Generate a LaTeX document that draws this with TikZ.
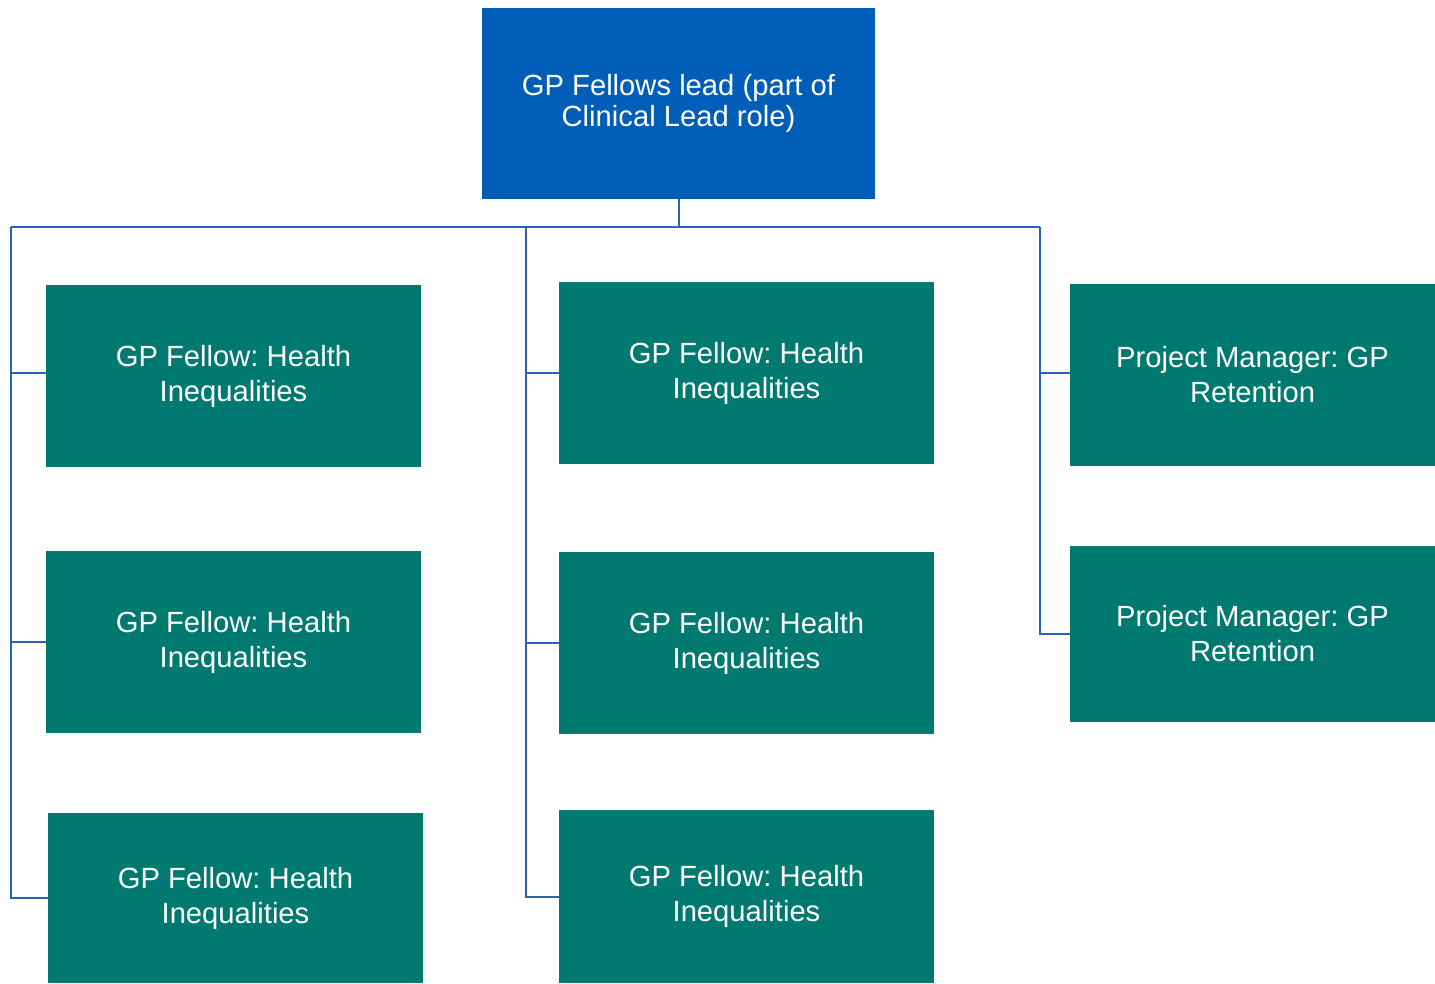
\documentclass[tikz,border=0pt]{standalone}
\usepackage{fontspec}
\setmainfont{Liberation Sans}
\usetikzlibrary{calc}
\definecolor{leadblue}{HTML}{005EB8}
\definecolor{fellowteal}{HTML}{007A70}
\definecolor{linkblue}{HTML}{2A62B8}
\frenchspacing

\begin{document}
\begin{tikzpicture}[x=0.5pt,y=-0.5pt,
    box/.style={rectangle,inner sep=0pt,align=center,text=white,
      font=\fontsize{14.6}{17.5}\selectfont},
    leadbox/.style={box,fill=leadblue,minimum width=196.5pt,minimum height=95.5pt,
      font=\fontsize{14.6}{15.5}\selectfont},
    fellowbox/.style={box,fill=fellowteal,minimum width=187.5pt,minimum height=91pt},
    link/.style={draw=linkblue,line width=1pt}]
  \useasboundingbox (0,0) rectangle (1435,984);

  % lead
  \node[leadbox] (lead) at (678.5,103.5) {GP Fellows lead (part of\\Clinical Lead role)};

  % left column
  \node[fellowbox] (hl1) at (233.5,376) {GP Fellow: Health\\Inequalities};
  \node[fellowbox] (hl2) at (233.5,642) {GP Fellow: Health\\Inequalities};
  \node[fellowbox,minimum height=85pt] (hl3) at (235.5,898) {GP Fellow: Health\\Inequalities};

  % middle column
  \node[fellowbox] (hm1) at (746.5,373) {GP Fellow: Health\\Inequalities};
  \node[fellowbox] (hm2) at (746.5,643) {GP Fellow: Health\\Inequalities};
  \node[fellowbox,minimum height=86.5pt] (hm3) at (746.5,896.5) {GP Fellow: Health\\Inequalities};

  % right column
  \node[fellowbox,minimum width=182.5pt] (pm1) at (1252.5,375) {Project Manager: GP\\Retention};
  \node[fellowbox,minimum width=182.5pt,minimum height=88pt] (pm2) at (1252.5,634) {Project Manager: GP\\Retention};

  % connectors
  \coordinate (bar) at (lead.south |- 0,227);
  \coordinate (ltop) at (11,227);
  \coordinate (mtop) at (526,227);
  \coordinate (rtop) at (1040,227);
  \draw[link] (lead.south) -- (bar);
  \draw[link] (ltop) -- (rtop);

  \draw[link] (ltop) |- (hl3.west);
  \draw[link] (ltop |- 0,373) -- (hl1.west |- 0,373);
  \draw[link] (ltop |- hl2.west) -- (hl2.west);

  \draw[link] (mtop) |- (hm3.west);
  \draw[link] (mtop |- hm1.west) -- (hm1.west);
  \draw[link] (mtop |- hm2.west) -- (hm2.west);

  \draw[link] (rtop) |- (pm2.west);
  \draw[link] (rtop |- 0,373) -- (pm1.west |- 0,373);
\end{tikzpicture}
\end{document}
